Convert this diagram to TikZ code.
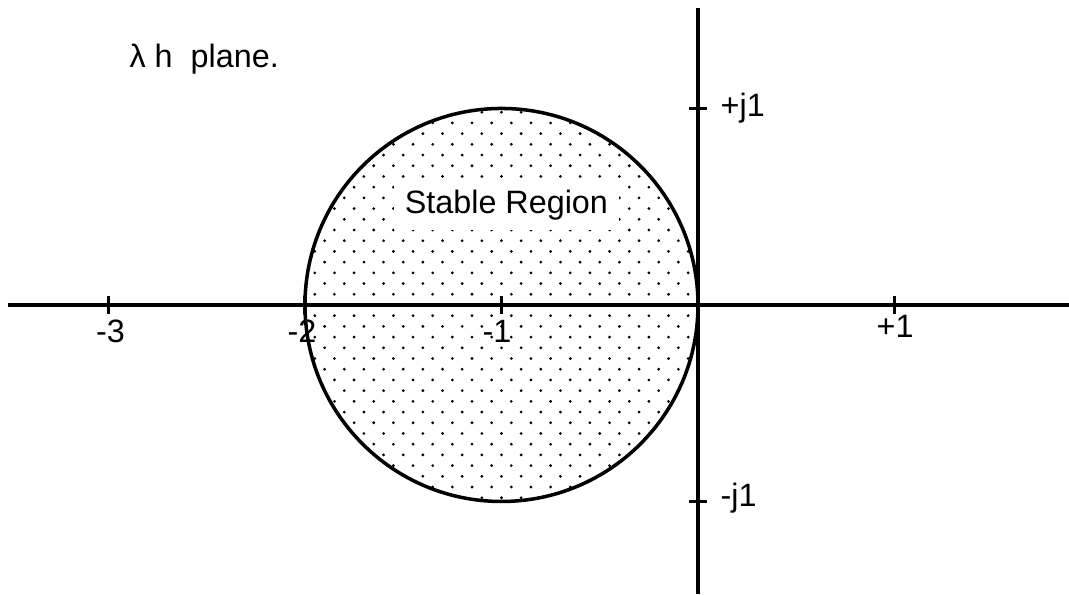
\documentclass[tikz,border=0pt]{standalone}
\usepackage{fontspec}
\setmainfont{Liberation Sans}
\usepackage{tikz}
\usetikzlibrary{positioning, calc}
\usepackage{xcolor}
\tikzset{
    axisline/.style={line width=1pt, black},
    tickmark/.style={line width=0.9pt, black},
    ticklabel/.style={inner sep=0pt, font=\fontsize{9.2}{11}\selectfont},
    stippledot/.style={fill=black},
}

\begin{document}
\begin{tikzpicture}[x=1.965cm, y=1.965cm]
    \useasboundingbox (-3.552,-1.471) rectangle (1.888,1.552);
    % stipple inside the circle
    \begin{scope}
        \clip (-1,0) circle (1);
        \foreach \i in {-10,...,10}
            \foreach \k in {-10,...,10} {
                \fill[stippledot] (-1+0.1*\i, 0.109*\k) circle (0.0078);
                \fill[stippledot] (-0.95+0.1*\i, 0.0545+0.109*\k) circle (0.0078);
            }
    \end{scope}
    \node[draw, circle, line width=1pt, minimum size=3.93cm, inner sep=0pt] (region) at (-1,0) {};
    % axes
    \coordinate (xl) at (-3.511,0);
    \coordinate (xr) at (1.888,0);
    \coordinate (yt) at (0,1.511);
    \coordinate (yb) at (0,-1.471);
    \draw[axisline] (xl) -- (xr);
    \draw[axisline] (yt) -- (yb);
    % ticks
    \foreach \x in {-3,-2,-1,1}
        \draw[tickmark] (\x,-0.045) -- (\x,0.045);
    \foreach \y in {-1,1}
        \draw[tickmark] (-0.045,\y) -- (0.045,\y);
    % labels
    \node[ticklabel, anchor=base] (lblm3) at (-2.99,-0.19) {-3};
    \node[ticklabel, anchor=base] (lblm2) at (-2.015,-0.19) {-2};
    \node[ticklabel, anchor=base] (lblm1) at (-1.023,-0.19) {-1};
    \node[ticklabel, anchor=base] (lblp1) at (1.003,-0.168) {+1};
    \node[ticklabel, anchor=base west] (lblpj) at (0.112,0.957) {+j1};
    \node[ticklabel, anchor=base west] (lblmj) at (0.112,-1.028) {-j1};
    \node[ticklabel, fill=white, inner sep=3pt, anchor=base] (stable) at (-0.975,0.468) {Stable Region};
    \node[ticklabel, anchor=base west] (plane) at (-2.896,1.206) {λ h\ \ plane.};
\end{tikzpicture}
\end{document}
